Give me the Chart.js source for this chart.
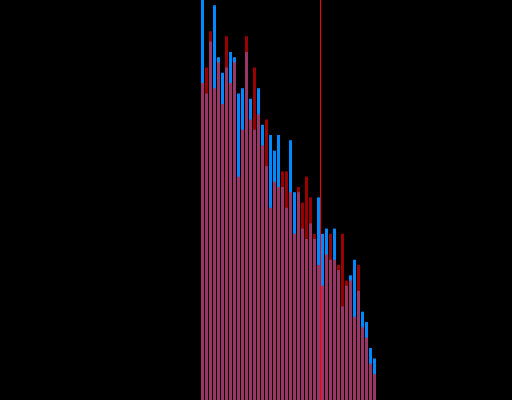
<!DOCTYPE html>
<html>
<head>
<meta charset="utf-8">
<script src="https://cdn.jsdelivr.net/npm/chart.js@4/dist/chart.umd.min.js"></script>
<style>
  html, body { margin: 0; padding: 0; background: #000; }
  #wrap { width: 512px; height: 400px; position: relative; background: #000; }
  canvas { display: block; }
</style>
</head>
<body>
<div id="wrap"><canvas id="c" width="512" height="400"></canvas></div>
<script>
// Histogram bins (bin index)
const bins = [0,1,2,3,4,5,6,7,8,9,10,11,12,13,14,15,16,17,18,19,20,21,
              22,23,24,25,26,27,28,29,30,31,32,33,34,35,36,37,38,39,40,41,42,43];
// Counts per bin, series A (blue)
const seriesBlue = [77,59,69,76,66,63,64,67,66,59,60,67,58,52,60,53,45,51,48,51,41,37,
                    50,40,40,33,31,34,31,39,32,33,27,33,25,18,22,24,27,21,17,15,10,8];
// Counts per bin, series B (red)
const seriesRed = [61,64,71,60,65,57,70,61,65,43,52,70,54,64,55,49,54,37,42,41,44,44,
                   40,32,41,38,43,39,32,26,22,28,32,27,26,32,23,23,16,26,14,12,7,5];
// Vertical threshold marker (in bin units)
const threshold = 29.5;
// Axis ranges
const xRange = [-50.625, 77.375];
const yRange = [0, 77];

const toPoints = (vals) => bins.map((b, i) => ({ x: b, y: vals[i] }));

new Chart(document.getElementById('c'), {
  type: 'bar',
  data: {
    datasets: [
      {
        type: 'line',
        data: [{ x: threshold, y: yRange[0] }, { x: threshold, y: yRange[1] }],
        borderColor: '#ff0000',
        borderWidth: 1,
        pointRadius: 0,
        fill: false,
        order: 0
      },
      {
        data: toPoints(seriesRed),
        backgroundColor: 'rgba(255,0,0,0.6)',
        borderWidth: 0,
        inflateAmount: 0,
        grouped: false,
        barThickness: 3,
        order: 1
      },
      {
        data: toPoints(seriesBlue),
        backgroundColor: 'rgb(0,136,255)',
        borderWidth: 0,
        inflateAmount: 0,
        grouped: false,
        barThickness: 3,
        order: 2
      }
    ]
  },
  options: {
    responsive: false,
    animation: false,
    devicePixelRatio: 1,
    layout: { padding: 0 },
    plugins: { legend: { display: false }, tooltip: { enabled: false } },
    scales: {
      x: { type: 'linear', display: false, min: xRange[0], max: xRange[1], bounds: 'data', offset: false },
      y: { type: 'linear', display: false, min: yRange[0], max: yRange[1], bounds: 'data' }
    }
  }
});
</script>
</body>
</html>
